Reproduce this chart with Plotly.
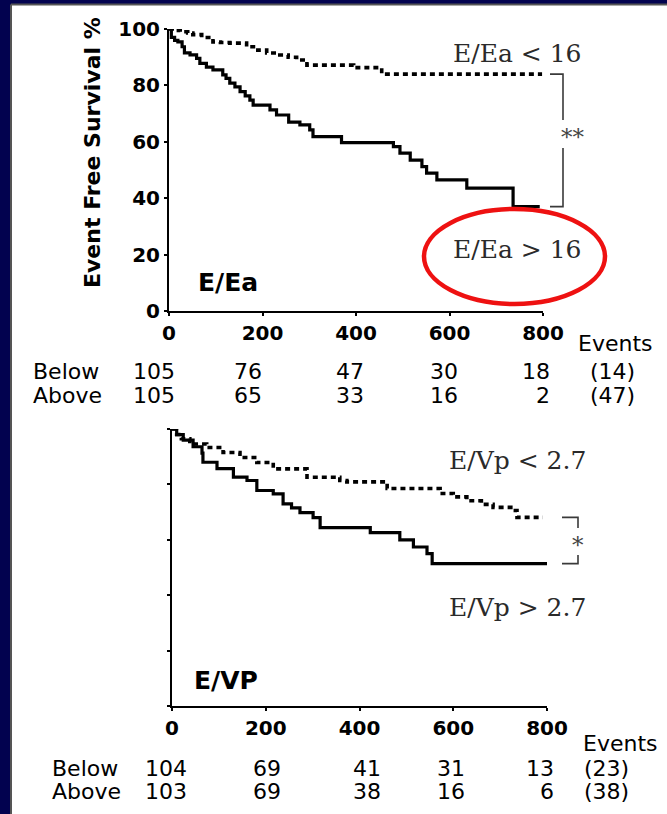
import plotly.graph_objects as go

W, H = 667, 814

# ---------------- data ----------------
days_ticks = [0, 200, 400, 600, 800]
surv_ticks = [0, 20, 40, 60, 80, 100]

# E/Ea panel (Kaplan-Meier steps)
ea_low_t = [0, 12, 24, 40, 51, 70, 94, 110, 130, 166, 190, 209, 237, 255, 273, 295, 395, 455, 798]
ea_low_s = [100, 99.5, 99, 98.6, 98, 97, 95.4, 95.2, 95, 93.7, 92.5, 91.5, 90.8, 90, 89, 87.2, 86.3, 84, 84]

ea_high_t = [0, 5, 12, 19, 28, 33, 45, 59, 66, 80, 94, 115, 122, 130, 141, 152, 163, 173, 180, 216, 230,
             256, 280, 301, 308, 369, 480, 494, 516, 541, 551, 573, 637, 736, 793]
ea_high_s = [100, 97, 96, 95.4, 93.7, 91.5, 90.8, 89.6, 87.8, 86.5, 85.5, 83.7, 82.5, 80.8, 79.5, 77.8, 76.3,
             74.8, 73, 71.3, 69.5, 67, 66, 64.2, 61.8, 59.7, 58.3, 56, 53.5, 51.2, 48.9, 46.5, 43.6, 37, 37]

# E/Vp panel
vp_low_t = [0, 10, 20, 38, 74, 109, 145, 181, 216, 288, 358, 373, 459, 572, 600, 629, 660, 685, 728, 736, 791]
vp_low_s = [100, 98, 96.5, 94.6, 93.3, 91.5, 89.7, 87.9, 85.6, 82.6, 81.4, 80.9, 78.5, 76.7, 75.5, 74.1,
            72.8, 71.7, 70.6, 68.1, 68.1]

vp_high_t = [0, 10, 24, 45, 64, 66, 96, 131, 160, 181, 216, 237, 255, 273, 301, 316, 423, 486, 515, 544, 555, 800]
vp_high_s = [100, 98, 96, 93.6, 91.3, 88, 85.7, 82.6, 81.4, 77.8, 76.6, 73, 71.5, 69.8, 68, 64.4, 62.6,
             60, 57.4, 55, 51.4, 51.4]

# numbers at risk
ea_below = [105, 76, 47, 30, 18]
ea_above = [105, 65, 33, 16, 2]
ea_events = [14, 47]
vp_below = [104, 69, 41, 31, 13]
vp_above = [103, 69, 38, 16, 6]
vp_events = [23, 38]

ea_labels = ["E/Ea &lt; 16", "E/Ea &gt; 16"]
vp_labels = ["E/Vp &lt; 2.7", "E/Vp &gt; 2.7"]

# ---------------- layout geometry (pixels) ----------------
top_x0, top_x1, top_y100, top_y0 = 169, 543, 29, 311
bot_x0, bot_x1, bot_y100, bot_y0 = 172, 547, 429, 706


def px(x):
    return x / W


def py(y):
    return 1 - y / H


def s2py(s, y100, y0):
    return y0 - (y0 - y100) * s / 100.0


fig = go.Figure()

solid = dict(color="black", width=3.2, shape="hv")
dotted = dict(color="black", width=3.6, shape="hv", dash="5px,4px")

fig.add_trace(go.Scatter(x=ea_low_t, y=ea_low_s, mode="lines", line=dotted, xaxis="x", yaxis="y",
                         showlegend=False, hoverinfo="skip"))
fig.add_trace(go.Scatter(x=ea_high_t, y=ea_high_s, mode="lines", line=solid, xaxis="x", yaxis="y",
                         showlegend=False, hoverinfo="skip"))
fig.add_trace(go.Scatter(x=vp_low_t, y=vp_low_s, mode="lines", line=dotted, xaxis="x2", yaxis="y2",
                         showlegend=False, hoverinfo="skip"))
fig.add_trace(go.Scatter(x=vp_high_t, y=vp_high_s, mode="lines", line=solid, xaxis="x2", yaxis="y2",
                         showlegend=False, hoverinfo="skip"))

tickfont = dict(family="DejaVu Sans", size=20, color="black", weight="bold")
axcommon = dict(showgrid=False, zeroline=False, showline=True, linecolor="black", linewidth=2,
                ticks="outside", ticklen=3, tickwidth=2, tickcolor="black", tickfont=tickfont,
                fixedrange=True, automargin=False)

fig.update_layout(
    width=W, height=H, autosize=False, margin=dict(l=0, r=0, t=0, b=0, pad=0),
    paper_bgcolor="#02024f", plot_bgcolor="rgba(0,0,0,0)",
    xaxis=dict(domain=[px(top_x0), px(top_x1)], range=[0, 800], tickvals=days_ticks,
               ticktext=[str(v) for v in days_ticks], anchor="y", **axcommon),
    yaxis=dict(domain=[py(top_y0), py(top_y100)], range=[0, 100], tickvals=surv_ticks,
               ticktext=[str(v) for v in surv_ticks], anchor="x", **axcommon),
    xaxis2=dict(domain=[px(bot_x0), px(bot_x1)], range=[0, 800], tickvals=days_ticks,
                ticktext=[str(v) for v in days_ticks], anchor="y2", **axcommon),
    yaxis2=dict(domain=[py(bot_y0), py(bot_y100)], range=[0, 100], tickvals=surv_ticks,
                showticklabels=False, anchor="x2", **axcommon),
)

shapes = []
# white panel
shapes.append(dict(type="rect", xref="paper", yref="paper", x0=px(11), x1=1.01, y0=-0.01, y1=py(4.5),
                   fillcolor="white", line=dict(width=0), layer="below"))
shapes.append(dict(type="line", xref="paper", yref="paper", x0=px(11), x1=px(11), y0=-0.01, y1=py(4.5),
                   line=dict(color="#555", width=2), layer="below"))
shapes.append(dict(type="line", xref="paper", yref="paper", x0=px(11), x1=1.01, y0=py(4.5), y1=py(4.5),
                   line=dict(color="#555", width=2), layer="below"))


def bracket(xv, xh, ytop, ybot, gap0, gap1):
    c = dict(color="#3a3a3a", width=1.6)
    path1 = f"M {px(xh)},{py(ytop)} L {px(xv)},{py(ytop)} L {px(xv)},{py(gap0)}"
    path2 = f"M {px(xv)},{py(gap1)} L {px(xv)},{py(ybot)} L {px(xh)},{py(ybot)}"
    return [dict(type="path", xref="paper", yref="paper", path=path1, line=c),
            dict(type="path", xref="paper", yref="paper", path=path2, line=c)]


# top bracket between curve ends
ty1 = s2py(ea_low_s[-1], top_y100, top_y0)
ty2 = s2py(ea_high_s[-1], top_y100, top_y0)
shapes += bracket(563, 550, ty1, ty2, 120, 148)
# bottom bracket
by1 = s2py(vp_low_s[-1], bot_y100, bot_y0)
by2 = s2py(vp_high_s[-1], bot_y100, bot_y0)
shapes += bracket(578, 562, by1, by2, 528, 555)

# red ellipse
shapes.append(dict(type="circle", xref="paper", yref="paper", x0=px(424), x1=px(605), y0=py(304), y1=py(209),
                   line=dict(color="#ee1111", width=4.5)))

fig.update_layout(shapes=shapes)

ann = []
serif = dict(family="DejaVu Serif", size=25, color="#2a2a2a")
sans_b = dict(family="DejaVu Sans", size=25, color="black", weight="bold")
sans = dict(family="DejaVu Sans", size=22, color="black")


def A(text, x, y, font, xanchor="center", yanchor="middle", angle=0):
    ann.append(dict(text=text, x=px(x), y=py(y), xref="paper", yref="paper", showarrow=False,
                    font=font, xanchor=xanchor, yanchor=yanchor, textangle=angle))


A("Event Free Survival %", 92, 153, dict(family="DejaVu Sans", size=22, color="black", weight="bold"), angle=-90)
A(ea_labels[0], 517, 53, serif)
A(ea_labels[1], 517, 250, serif)
A("**", 573, 137, dict(family="DejaVu Serif", size=23, color="#444"))
A("E/Ea", 196, 282, sans_b, xanchor="left")

A(vp_labels[0], 517, 460, serif)
A(vp_labels[1], 517, 607, serif)
A("*", 578, 545, dict(family="DejaVu Serif", size=23, color="#444"))
A("E/VP", 192, 680, sans_b, xanchor="left")

# numbers-at-risk tables
top_cols = [177, 264, 366, 460, 552]
bot_cols = [189, 283, 383, 467, 556]

A("Events", 615, 343, sans)
A("Below", 31, 371, sans, xanchor="left")
A("Above", 31, 395, sans, xanchor="left")
for xc, v in zip(top_cols, ea_below):
    A(str(v), xc, 371, sans, xanchor="right")
for xc, v in zip(top_cols, ea_above):
    A(str(v), xc, 395, sans, xanchor="right")
A(f"({ea_events[0]})", 612, 371, sans)
A(f"({ea_events[1]})", 612, 395, sans)

A("Events", 620, 743, sans)
A("Below", 50, 768, sans, xanchor="left")
A("Above", 50, 791, sans, xanchor="left")
for xc, v in zip(bot_cols, vp_below):
    A(str(v), xc, 768, sans, xanchor="right")
for xc, v in zip(bot_cols, vp_above):
    A(str(v), xc, 791, sans, xanchor="right")
A(f"({vp_events[0]})", 606, 768, sans)
A(f"({vp_events[1]})", 606, 791, sans)

fig.update_layout(annotations=ann)

fig.write_html("out.html")
